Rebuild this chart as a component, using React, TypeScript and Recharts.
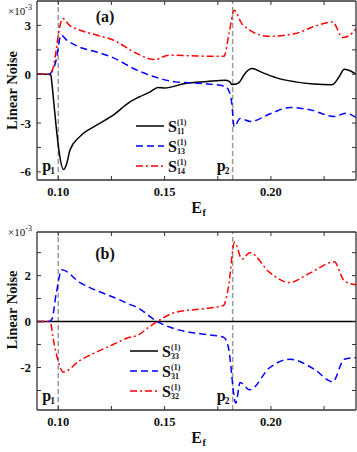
import React from "react";
import { LineChart, Line, XAxis, YAxis, ReferenceLine, Legend } from "recharts";

const FONT = "'Liberation Serif', 'Times New Roman', Times, serif";

// shared x axis (Fermi energy)
const X_DOMAIN = [0.09, 0.24];
const X_TICKS = [0.1, 0.125, 0.15, 0.175, 0.2, 0.225];
const X_LABELS = [0.1, 0.15, 0.2];
const P1 = 0.1;
const P2 = 0.182;

// panel (a)
const YA_DOMAIN = [-6.5, 4.5];
const YA_TICKS = [-6, -4.5, -3, -1.5, 0, 1.5, 3];
const YA_LABELS = [-6, -3, 0, 3];

const E_S11 = [0.09, 0.095, 0.0965, 0.097, 0.0978, 0.099, 0.1005, 0.1024, 0.104, 0.1055, 0.11, 0.118, 0.126, 0.1337, 0.138, 0.143, 0.147, 0.15, 0.1596, 0.17, 0.1785, 0.1805, 0.1816, 0.1835, 0.1848, 0.188, 0.191, 0.196, 0.2038, 0.2115, 0.22, 0.2285, 0.2295, 0.232, 0.2345, 0.2375, 0.24];
const S11 = [0, 0, -0.05, -0.55, -1.6, -3.2, -4.87, -5.85, -5.48, -4.66, -3.85, -3.13, -2.5, -1.7, -1.4, -1.1, -0.82, -0.85, -0.57, -0.45, -0.37, -0.45, -0.63, -0.6, -0.53, 0.08, 0.35, 0.1, -0.27, -0.47, -0.6, -0.65, -0.6, -0.17, 0.3, 0.2, 0.0];

const E_S13 = [0.09, 0.0955, 0.097, 0.099, 0.1013, 0.104, 0.11, 0.118, 0.1257, 0.137, 0.1455, 0.155, 0.1677, 0.1785, 0.1805, 0.1816, 0.1827, 0.1855, 0.1905, 0.2, 0.209, 0.2188, 0.2297, 0.2352, 0.24];
const S13 = [0, 0, 0.15, 0.86, 2.4, 2.1, 1.67, 1.37, 1.02, 0.25, -0.17, -0.47, -0.57, -0.74, -1.1, -1.8, -3.23, -2.72, -2.9, -2.41, -2.04, -2.2, -2.6, -2.4, -2.65];

const E_S14 = [0.09, 0.095, 0.0965, 0.0977, 0.099, 0.1, 0.1021, 0.1053, 0.11, 0.118, 0.1258, 0.137, 0.1454, 0.1519, 0.165, 0.1779, 0.1803, 0.1827, 0.1863, 0.188, 0.193, 0.199, 0.2115, 0.2196, 0.229, 0.2337, 0.2384, 0.24];
const S14 = [0, 0, 0.1, 0.45, 1.47, 2.4, 3.42, 3.0, 2.72, 2.41, 2.1, 1.27, 0.9, 1.17, 1.12, 1.1, 2.5, 3.93, 3.11, 2.9, 2.5, 2.33, 2.5, 2.9, 3.21, 2.25, 2.55, 2.8];

// panel (b)
const YB_DOMAIN = [-3.85, 3.9];
const YB_TICKS = [-3, -2, -1, 0, 1, 2, 3];
const YB_LABELS = [-2, 0, 2];

const E_S33 = [0.09, 0.24];
const S33 = [0, 0];

const E_S31 = [0.09, 0.0955, 0.097, 0.099, 0.1017, 0.11, 0.118, 0.126, 0.1336, 0.137, 0.1465, 0.155, 0.1675, 0.1777, 0.18, 0.1835, 0.1855, 0.19, 0.1995, 0.209, 0.2203, 0.229, 0.2345, 0.24];
const S31 = [0, 0, 0.1, 1.2, 2.26, 1.71, 1.35, 1.06, 0.75, 0.62, 0, -0.32, -0.54, -0.68, -1.12, -3.55, -2.65, -2.97, -2.0, -1.64, -2.07, -2.62, -1.64, -1.57];

const E_S32 = [0.09, 0.0955, 0.0965, 0.0975, 0.0999, 0.1024, 0.11, 0.118, 0.1258, 0.1336, 0.137, 0.1425, 0.1465, 0.155, 0.1675, 0.1777, 0.18, 0.1829, 0.1864, 0.19, 0.1995, 0.2085, 0.2187, 0.2298, 0.2345, 0.24];
const S32 = [0, 0, -0.1, -0.68, -1.7, -2.2, -1.7, -1.33, -1.0, -0.68, -0.61, -0.25, 0, 0.4, 0.55, 0.7, 1.49, 3.45, 2.72, 3.0, 2.13, 1.7, 2.13, 2.6, 1.77, 1.6];

const BLACK = "#000000";
const BLUE = "#0000ff";
const RED = "#ff0000";
const DASH = "7 4";
const DASHDOT = "7 3 2 3";

const rows = (es: number[], vs: number[]) => es.map((e, i) => ({ e, v: vs[i] }));

const SERIES_A = [
  { key: "s11", sub: "11", color: BLACK, dash: undefined, data: rows(E_S11, S11) },
  { key: "s13", sub: "13", color: BLUE, dash: DASH, data: rows(E_S13, S13) },
  { key: "s14", sub: "14", color: RED, dash: DASHDOT, data: rows(E_S14, S14) },
];
const SERIES_B = [
  { key: "s33", sub: "33", color: BLACK, dash: undefined, data: rows(E_S33, S33) },
  { key: "s31", sub: "31", color: BLUE, dash: DASH, data: rows(E_S31, S31) },
  { key: "s32", sub: "32", color: RED, dash: DASHDOT, data: rows(E_S32, S32) },
];

const AXIS = "#333";

const hasLabel = (labels: number[] | null, v: number) =>
  !!labels && labels.some((l) => Math.abs(l - v) < 1e-9);

// inward tick marks on all four sides, labels only on left/bottom
const makeTick = (side: string, labels: number[] | null) => (props: any) => {
  const { x, y, payload } = props;
  const v = payload.value;
  const L = 4;
  let seg = [x, y, x, y - L];
  if (side === "top") seg = [x, y, x, y + L];
  if (side === "left") seg = [x, y, x + L, y];
  if (side === "right") seg = [x, y, x - L, y];
  const show = hasLabel(labels, v);
  return (
    <g>
      <line x1={seg[0]} y1={seg[1]} x2={seg[2]} y2={seg[3]} stroke={AXIS} strokeWidth={1} />
      {show && side === "bottom" && (
        <text x={x} y={y + 16} textAnchor="middle" fontFamily={FONT} fontWeight="bold" fontSize={12.5} fill="#111">
          {v.toFixed(2)}
        </text>
      )}
      {show && side === "left" && (
        <text x={x - 6} y={y + 4.5} textAnchor="end" fontFamily={FONT} fontWeight="bold" fontSize={13} fill="#111">
          {String(v)}
        </text>
      )}
    </g>
  );
};

const pLabel = (n: string) => (props: any) => {
  const vb = props.viewBox || {};
  const bx = vb.x - 16;
  const by = vb.y + vb.height - 9;
  return (
    <g fontFamily={FONT} fontWeight="bold" fill="#111">
      <text x={bx} y={by} fontSize={16}>p</text>
      <text x={bx + 8} y={by + 3} fontSize={9.5}>{n}</text>
    </g>
  );
};

const legendContent = (series: any[]) => () => (
  <svg width={80} height={58} style={{ overflow: "visible", display: "block" }}>
    {series.map((s, i) => {
      const cy = 6 + i * 20;
      return (
        <g key={s.key} fontFamily={FONT} fontWeight="bold" fill="#111">
          <line x1={0} x2={28} y1={cy} y2={cy} stroke={s.color} strokeWidth={1.5} strokeDasharray={s.dash} />
          <text x={32} y={cy + 5.5} fontSize={16}>S</text>
          <text x={41} y={cy - 1} fontSize={8}>(1)</text>
          <text x={41} y={cy + 8} fontSize={8}>{s.sub}</text>
        </g>
      );
    })}
  </svg>
);

function Panel(props: any) {
  const { tag, series, yDomain, yTicks, yLabels, height, margin, legendLeft, legendTop, nameShift, tagShift, expY } = props;

  const leftLabel = (p: any) => {
    const vb = p.viewBox || {};
    const top = vb.y;
    const cy = vb.y + vb.height / 2 + nameShift;
    return (
      <g fontFamily={FONT} fill="#111">
        <text
          x={12}
          y={cy}
          transform={`rotate(-90 12 ${cy})`}
          textAnchor="middle"
          dominantBaseline="central"
          fontWeight="bold"
          fontSize={14.5}
        >
          Linear Noise
        </text>
        <text x={8} y={top + expY} fontSize={11}>
          ×10
          <tspan dy={-5} fontSize={8}>-3</tspan>
        </text>
        <text x={105} y={top + tagShift} textAnchor="middle" fontWeight="bold" fontSize={16}>
          {tag}
        </text>
      </g>
    );
  };

  const bottomLabel = (p: any) => {
    const vb = p.viewBox || {};
    const cx = vb.x + vb.width / 2;
    const by = vb.y + 33;
    return (
      <g fontFamily={FONT} fontWeight="bold" fill="#111">
        <text x={cx} y={by} textAnchor="middle" fontSize={16}>E</text>
        <text x={cx + 6} y={by + 3} fontSize={10}>f</text>
      </g>
    );
  };

  return (
    <LineChart width={357} height={height} margin={margin}>
      <XAxis
        dataKey="e"
        type="number"
        domain={X_DOMAIN}
        ticks={X_TICKS}
        interval={0}
        allowDataOverflow
        height={1}
        tickSize={0}
        tickMargin={0}
        tickLine={false}
        tick={makeTick("bottom", X_LABELS)}
        axisLine={{ stroke: AXIS, strokeWidth: 1.3 }}
        label={bottomLabel}
      />
      <XAxis
        xAxisId="top"
        orientation="top"
        dataKey="e"
        type="number"
        domain={X_DOMAIN}
        ticks={X_TICKS}
        interval={0}
        allowDataOverflow
        height={1}
        tickSize={0}
        tickMargin={0}
        tickLine={false}
        tick={makeTick("top", null)}
        axisLine={{ stroke: AXIS, strokeWidth: 1.3 }}
      />
      <YAxis
        type="number"
        domain={yDomain}
        ticks={yTicks}
        interval={0}
        allowDataOverflow
        width={1}
        tickSize={0}
        tickMargin={0}
        tickLine={false}
        tick={makeTick("left", yLabels)}
        axisLine={{ stroke: AXIS, strokeWidth: 1.3 }}
        label={leftLabel}
      />
      <YAxis
        yAxisId="right"
        orientation="right"
        type="number"
        domain={yDomain}
        ticks={yTicks}
        interval={0}
        allowDataOverflow
        width={1}
        tickSize={0}
        tickMargin={0}
        tickLine={false}
        tick={makeTick("right", null)}
        axisLine={{ stroke: AXIS, strokeWidth: 1.3 }}
      />
      <ReferenceLine x={P1} stroke="#999" strokeWidth={1.5} strokeDasharray="5 3" label={pLabel("1")} />
      <ReferenceLine x={P2} stroke="#999" strokeWidth={1.5} strokeDasharray="5 3" label={pLabel("2")} />
      {series.map((s: any) => (
        <Line
          key={s.key}
          data={s.data}
          dataKey="v"
          type="monotone"
          stroke={s.color}
          strokeWidth={1.5}
          strokeDasharray={s.dash}
          dot={false}
          activeDot={false}
          isAnimationActive={false}
        />
      ))}
      <Legend
        layout="vertical"
        align="center"
        verticalAlign="middle"
        content={legendContent(series)}
        wrapperStyle={{ left: legendLeft, top: legendTop, width: 80, height: 58 }}
      />
    </LineChart>
  );
}

export default function App() {
  return (
    <div style={{ position: "absolute", left: 0, top: 0, width: 357, height: 452, background: "#fff" }}>
      <div style={{ position: "absolute", left: 0, top: 0 }}>
        <Panel
          tag="(a)"
          series={SERIES_A}
          yDomain={YA_DOMAIN}
          yTicks={YA_TICKS}
          yLabels={YA_LABELS}
          height={220}
          margin={{ top: 0, right: 0, bottom: 39, left: 36 }}
          legendLeft={136}
          legendTop={120}
          nameShift={0}
          tagShift={21}
          expY={14}
        />
      </div>
      <div style={{ position: "absolute", left: 0, top: 216 }}>
        <Panel
          tag="(b)"
          series={SERIES_B}
          yDomain={YB_DOMAIN}
          yTicks={YB_TICKS}
          yLabels={YB_LABELS}
          height={236}
          margin={{ top: 15, right: 0, bottom: 41, left: 36 }}
          legendLeft={130}
          legendTop={129}
          nameShift={-11}
          tagShift={27}
          expY={4}
        />
      </div>
    </div>
  );
}
